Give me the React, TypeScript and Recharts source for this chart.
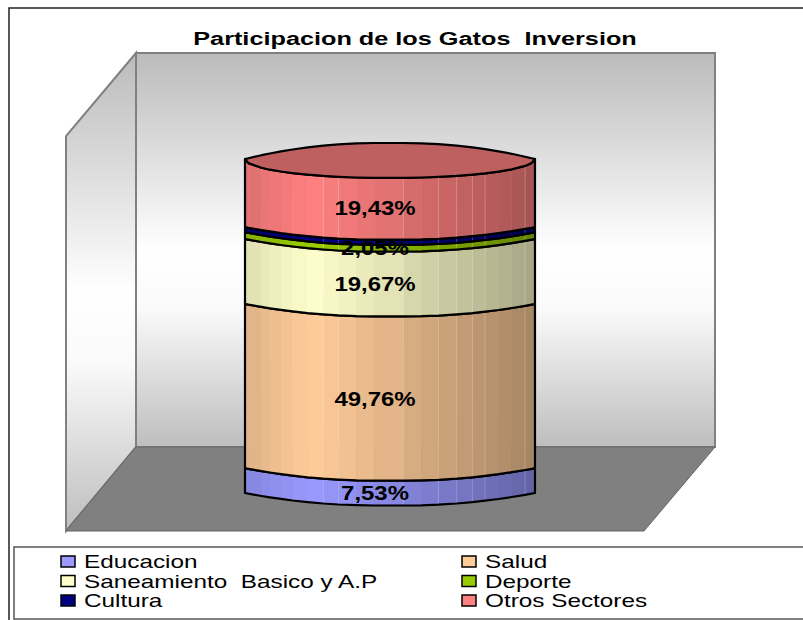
import { Bar, BarChart, LabelList, XAxis, YAxis } from "recharts";

const title = "Participacion de los Gatos\u00a0 Inversion";
const sectors = ["Educacion", "Salud", "Saneamiento\u00a0 Basico y A.P", "Deporte", "Cultura", "Otros Sectores"];
const shares = [7.53, 49.76, 19.67, 2.05, 1.56, 19.43];
const hiddenLabels = ["Cultura"];
const colors = ["#9999FF", "#FFCC99", "#FFFFCC", "#99CC00", "#000080", "#FF8080"];

const row: Record<string, string | number> = { name: "Inversion" };
sectors.forEach((s, i) => {
  row[s] = shares[i];
});
const chartData = [row];

// facet edges of the cylinder as fractions of its width, and which of them show a pale seam
const facetEdges = [0, 0.012, 0.057, 0.086, 0.124, 0.164, 0.216, 0.27, 0.322, 0.385, 0.446, 0.546, 0.609, 0.667, 0.73, 0.784, 0.828, 0.874, 0.92, 0.966, 0.988, 1];
const seams = [7, 8, 11, 13, 14, 15, 16, 19];
const RY = 12.5;

function shade(hex: string, u: number) {
  // brightest about a fifth of the way across, darker towards the right
  const f = u < 0.2 ? 0.88 + (u / 0.2) * 0.12 : 1 - ((u - 0.2) / 0.8) * 0.36;
  const n = parseInt(hex.slice(1), 16);
  const r = Math.round(((n >> 16) & 255) * f);
  const g = Math.round(((n >> 8) & 255) * f);
  const b = Math.round((n & 255) * f);
  return `rgb(${r},${g},${b})`;
}

function curve(x: number, w: number, y: number, ry: number, round = false) {
  return facetEdges.map((e): [number, number] => {
    const u = Math.abs(e * 2 - 1);
    if (round) return [x + e * w, y + ry * Math.sqrt(1 - u * u)];
    const v = Math.max(0, (u - 0.1) / 0.9);
    return [x + e * w, y + ry * (1 - v * v)];
  });
}

const line = (pts: [number, number][]) => pts.map((p) => `${p[0].toFixed(1)},${p[1].toFixed(1)}`).join(" L");

function Cylinder(props: any) {
  const { x, y, width, height, fill, isTop } = props;
  const topY = isTop ? y - 4 : y;
  const up = curve(x, width, topY, isTop ? 19 : RY, isTop);
  const down = curve(x, width, y + height, RY);
  const back = curve(x, width, topY, -16);
  return (
    <g>
      {up.slice(0, -1).map((p, i) => (
        <path
          key={i}
          d={`M${line([p, up[i + 1], down[i + 1], down[i]])}Z`}
          fill={shade(fill, (p[0] - x) / width)}
          stroke={shade(fill, (p[0] - x) / width)}
          strokeWidth={0.6}
        />
      ))}
      {seams.map((s) => (
        <path key={s} d={`M${line([up[s], down[s]])}`} stroke="#fff" strokeOpacity={0.22} strokeWidth={1} />
      ))}
      <path
        d={`M${line([...up, ...down.slice().reverse()])}Z`}
        fill="none"
        stroke="#000"
        strokeWidth={2.2}
        strokeLinejoin="round"
      />
      {isTop && (
        <path
          d={`M${line([...up, ...back.slice().reverse()])}Z`}
          fill="#BF6060"
          stroke="#000"
          strokeWidth={2.2}
          strokeLinejoin="round"
        />
      )}
    </g>
  );
}

function ShareLabel(props: any) {
  const { x, y, width, height, value } = props;
  return (
    <text
      transform={`translate(${x + width / 2 - 15} ${y + height / 2 + RY + 7}) scale(1.14 1)`}
      textAnchor="middle"
      fontFamily="Liberation Sans"
      fontWeight="bold"
      fontSize={21}
      fill="#000"
    >
      {Number(value).toFixed(2).replace(".", ",")}%
    </text>
  );
}

function Backdrop() {
  return (
    <svg width={803} height={620} style={{ position: "absolute", left: 0, top: 0 }}>
      <defs>
        <linearGradient id="wall" x1="0" y1="0" x2="0" y2="1">
          <stop offset="0" stopColor="#BBBBBB" />
          <stop offset="0.5" stopColor="#FFFFFF" />
          <stop offset="0.65" stopColor="#FAFAFA" />
          <stop offset="1" stopColor="#BEBEBE" />
        </linearGradient>
      </defs>
      <rect x={9} y={8} width={800} height={620} fill="#fff" stroke="#222" strokeWidth={1.5} />
      <text
        transform="translate(415 45) scale(1.33 1)"
        textAnchor="middle"
        fontFamily="Liberation Sans"
        fontWeight="bold"
        fontSize={19}
        fill="#000"
      >
        {title}
      </text>
      <polygon points="136,53 66,136 66,531 136,447" fill="url(#wall)" stroke="#808080" strokeWidth={2} />
      <rect x={136} y={53} width={579} height={394} fill="url(#wall)" stroke="#808080" strokeWidth={2} />
      <polygon points="136,447 715,447 644,531 66,531" fill="#808080" stroke="#666" strokeWidth={1} />
      <rect x={14} y={547} width={800} height={72} fill="#fff" stroke="#555" strokeWidth={1.5} />
      {sectors.map((s, i) => {
        const left = i % 2 === 0 ? 61 : 462;
        const cy = 561.5 + Math.floor(i / 2) * 19.5;
        return (
          <g key={s}>
            <rect x={left} y={cy - 5.5} width={14} height={11} fill={colors[i]} stroke="#000" strokeWidth={1.5} />
            <text
              transform={`translate(${left + 23} ${cy + 6.5}) scale(1.28 1)`}
              fontFamily="Liberation Sans"
              fontSize={19}
              fill="#000"
            >
              {s}
            </text>
          </g>
        );
      })}
    </svg>
  );
}

export default function App() {
  return (
    <div style={{ position: "relative", width: 803, height: 620, overflow: "hidden" }}>
      <style>{"body{margin:0}"}</style>
      <Backdrop />
      <div style={{ position: "absolute", left: 0, top: 0 }}>
        <BarChart
          width={803}
          height={620}
          data={chartData}
          barCategoryGap={0}
          margin={{ left: 245, right: 268, top: 163, bottom: 127 }}
        >
          <XAxis dataKey="name" hide />
          <YAxis domain={[0, 100]} hide />
          {sectors.map((s, i) => (
            <Bar
              key={s}
              dataKey={s}
              stackId="gastos"
              fill={colors[i]}
              isAnimationActive={false}
              shape={(p: any) => <Cylinder {...p} isTop={i === sectors.length - 1} />}
            >
              {!hiddenLabels.includes(s) && <LabelList dataKey={s} content={ShareLabel} />}
            </Bar>
          ))}
        </BarChart>
      </div>
    </div>
  );
}
